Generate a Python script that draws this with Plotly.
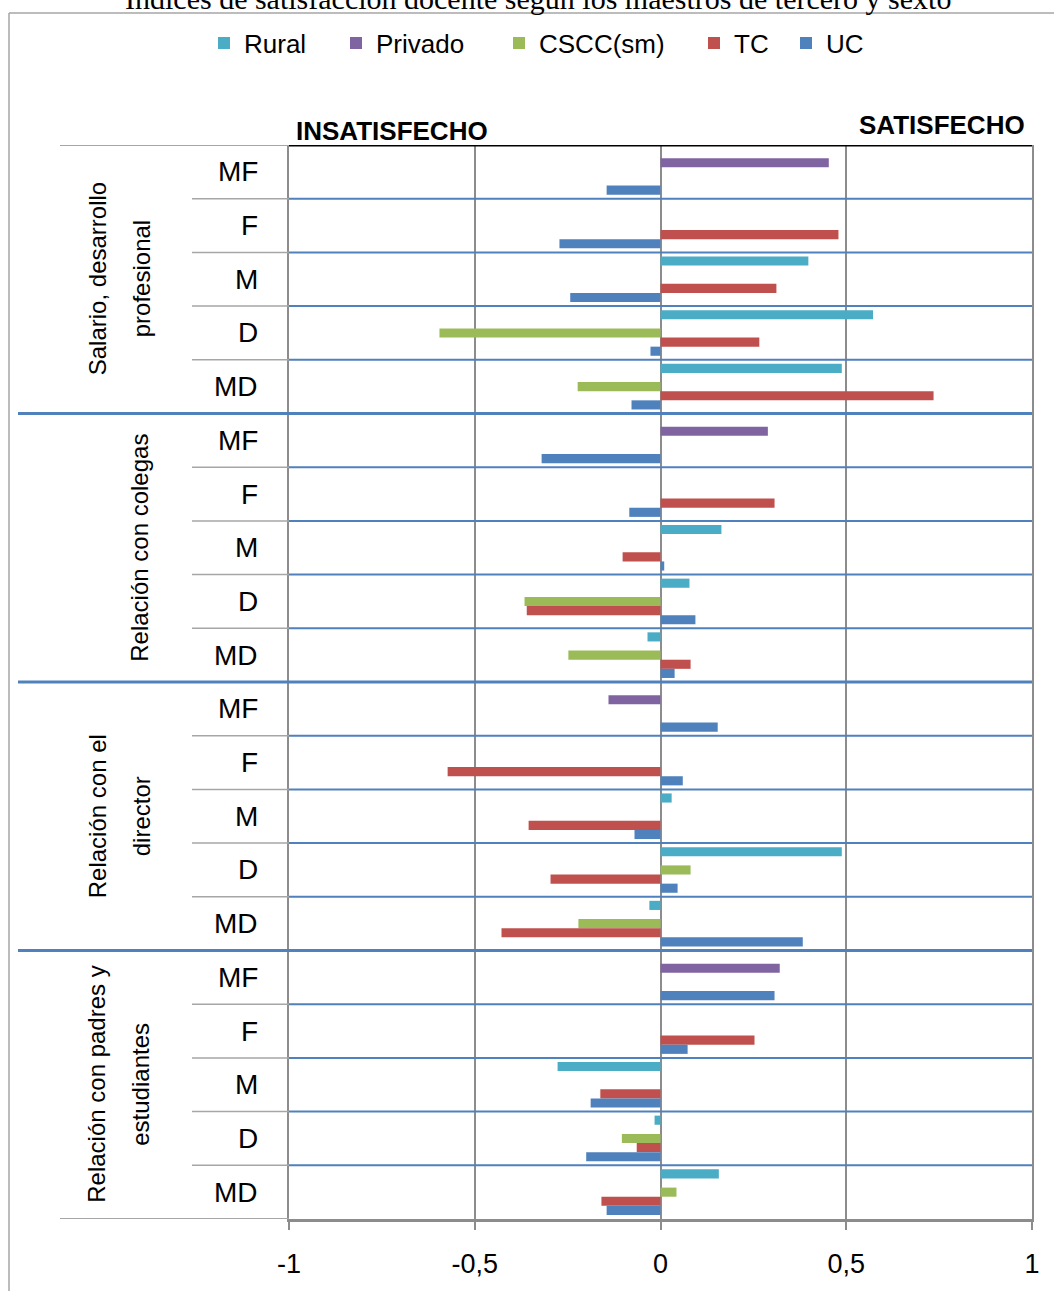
import plotly.graph_objects as go

# Categories (rows) grouped by dimension
groups = [
    ["Salario, desarrollo", "profesional"],
    ["Relación con colegas"],
    ["Relación con el", "director"],
    ["Relación con padres y", "estudiantes"],
]
levels = ["MF", "F", "M", "D", "MD"]

series_names = ["Rural", "Privado", "CSCC(sm)", "TC", "UC"]
series_colors = ["#4BACC6", "#8064A2", "#9BBB59", "#C0504D", "#4F81BD"]

rural = [None, None, 0.398, 0.572, 0.488,
         None, None, 0.164, 0.078, -0.035,
         None, None, 0.030, 0.488, -0.030,
         None, None, -0.277, -0.016, 0.157]
privado = [0.453, None, None, None, None,
           0.289, None, None, None, None,
           -0.140, None, None, None, None,
           0.321, None, None, None, None]
cscc = [None, None, None, -0.595, -0.223,
        None, None, None, -0.366, -0.248,
        None, None, None, 0.081, -0.221,
        None, None, None, -0.104, 0.043]
tc = [None, 0.479, 0.312, 0.266, 0.735,
      None, 0.307, -0.102, -0.360, 0.081,
      None, -0.573, -0.355, -0.296, -0.428,
      None, 0.253, -0.162, -0.064, -0.159]
uc = [-0.145, -0.272, -0.243, -0.027, -0.078,
      -0.320, -0.084, 0.010, 0.094, 0.038,
      0.154, 0.060, -0.070, 0.046, 0.383,
      0.307, 0.073, -0.188, -0.200, -0.145]
series_values = [rural, privado, cscc, tc, uc]

x_ticks = [-1, -0.5, 0, 0.5, 1]
x_tick_labels = ["-1", "-0,5", "0", "0,5", "1"]

title_text = "Índices de satisfacción docente según los maestros de tercero y sexto"

W, H = 1054, 1291
n_rows = len(groups) * len(levels)
rows = list(range(n_rows))

SANS = "Liberation Sans, Arial, sans-serif"
GRID = "#8C8C8C"
SEP = "#4F81BD"
LIGHT = "#A6A6A6"


def px(x):
    return x / W


def py(y):
    return 1 - y / H


# one legend per series so each key sits at its own spot along the top
legend_keys = ["legend", "legend2", "legend3", "legend4", "legend5"]
legend_left = [204, 336, 499, 694, 786]

fig = go.Figure()
for name, color, vals, lg in zip(series_names, series_colors, series_values, legend_keys):
    fig.add_trace(go.Bar(
        name=name, y=rows, x=vals, orientation="h", legend=lg,
        marker=dict(color=color, line=dict(width=0)),
    ))

plot_left, plot_right, plot_top, plot_bottom = 289, 1032, 145, 1219

shapes = []
# row separators inside the plot and beside the inner labels
for i in range(1, n_rows):
    yv = i - 0.5
    if i % len(levels) == 0:
        shapes.append(dict(type="line", xref="paper", yref="y",
                           x0=px(18), x1=px(plot_right), y0=yv, y1=yv,
                           line=dict(color=SEP, width=3)))
    else:
        shapes.append(dict(type="line", xref="paper", yref="y",
                           x0=px(plot_left), x1=px(plot_right), y0=yv, y1=yv,
                           line=dict(color=SEP, width=2)))
        shapes.append(dict(type="line", xref="paper", yref="y",
                           x0=px(192), x1=px(plot_left), y0=yv, y1=yv,
                           line=dict(color=LIGHT, width=1.5)))
# top and bottom edges of the label area
shapes.append(dict(type="line", xref="paper", yref="y", x0=px(60), x1=px(plot_left),
                   y0=-0.5, y1=-0.5, line=dict(color=LIGHT, width=2)))
shapes.append(dict(type="line", xref="paper", yref="y", x0=px(60), x1=px(plot_left),
                   y0=n_rows - 0.5, y1=n_rows - 0.5, line=dict(color=LIGHT, width=2)))
# heavy top border of the plot
shapes.append(dict(type="line", xref="paper", yref="y", x0=px(plot_left), x1=px(plot_right),
                   y0=-0.5, y1=-0.5, line=dict(color="black", width=3)))
# outer frame
shapes.append(dict(type="line", xref="paper", yref="paper", x0=px(9), x1=1,
                   y0=py(13), y1=py(13), line=dict(color=LIGHT, width=1.5)))
shapes.append(dict(type="line", xref="paper", yref="paper", x0=px(9), x1=px(9),
                   y0=py(13), y1=0, line=dict(color=LIGHT, width=1.5)))

annotations = []
# inner category labels
for i in rows:
    annotations.append(dict(text=levels[i % len(levels)], xref="paper", yref="y",
                            x=px(260), y=i, xanchor="right", yanchor="middle",
                            showarrow=False, font=dict(family=SANS, size=28, color="black")))
# group labels, rotated
line_x = {1: [140], 2: [97, 141]}
for g, lines in enumerate(groups):
    yc = g * len(levels) + (len(levels) - 1) / 2
    xs = line_x[len(lines)]
    for txt, xl in zip(lines, xs):
        annotations.append(dict(text=txt, xref="paper", yref="y", x=px(xl), y=yc,
                                xanchor="center", yanchor="middle", textangle=-90,
                                showarrow=False,
                                font=dict(family=SANS, size=24, color="black")))
# side headings
annotations.append(dict(text="<b>INSATISFECHO</b>", xref="paper", yref="paper",
                        x=px(294), y=py(131), xanchor="left", yanchor="middle",
                        showarrow=False, font=dict(family=SANS, size=26, color="black")))
annotations.append(dict(text="<b>SATISFECHO</b>", xref="paper", yref="paper",
                        x=px(1027), y=py(125), xanchor="right", yanchor="middle",
                        showarrow=False, font=dict(family=SANS, size=26, color="black")))
# title, partly above the top edge
annotations.append(dict(text=title_text, xref="paper", yref="paper",
                        x=px(538), y=py(-2), xanchor="center", yanchor="middle",
                        showarrow=False,
                        font=dict(family="Liberation Serif, Times New Roman, serif",
                                  size=30, color="black")))

legend_style = dict(orientation="h", xanchor="left", yanchor="middle", y=py(43),
                    font=dict(family=SANS, size=26, color="black"),
                    itemwidth=30, bgcolor="rgba(0,0,0,0)")
legend_layout = {lg: dict(legend_style, x=px(xl)) for lg, xl in zip(legend_keys, legend_left)}

fig.update_layout(
    width=W, height=H,
    margin=dict(l=0, r=0, t=0, b=0),
    paper_bgcolor="white", plot_bgcolor="white",
    barmode="group", bargap=0.15, bargroupgap=0,
    showlegend=True,
    xaxis=dict(
        domain=[px(plot_left), px(plot_right)],
        range=[-1, 1], tickvals=x_ticks, ticktext=x_tick_labels,
        showgrid=True, gridcolor=GRID, gridwidth=2,
        zeroline=True, zerolinecolor=GRID, zerolinewidth=2,
        showline=True, linecolor=GRID, linewidth=3,
        ticks="outside", ticklen=8, tickwidth=2, tickcolor=GRID,
        ticklabelstandoff=11,
        tickfont=dict(family=SANS, size=27, color="black"),
        automargin=False, fixedrange=True,
    ),
    yaxis=dict(
        domain=[py(plot_bottom), py(plot_top)],
        range=[n_rows - 0.5, -0.5],
        showticklabels=False, showgrid=False, zeroline=False,
        showline=True, linecolor=GRID, linewidth=2, mirror=True,
        ticks="", automargin=False, fixedrange=True,
    ),
    shapes=shapes,
    annotations=annotations,
    **legend_layout,
)

fig.write_html("out.html")
